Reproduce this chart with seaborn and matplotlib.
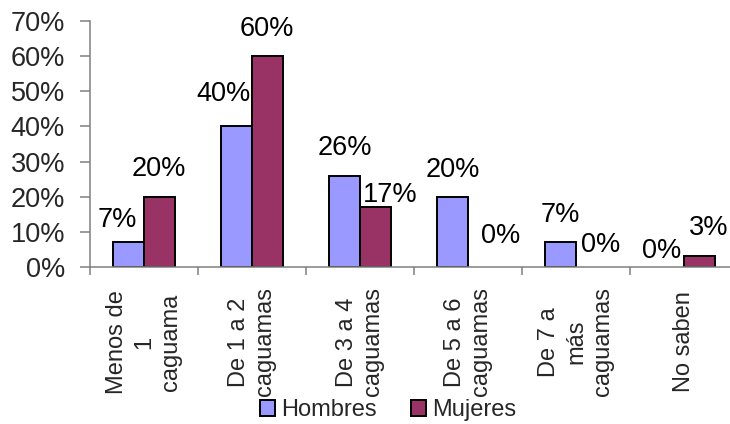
import matplotlib
matplotlib.use("Agg")
import matplotlib.pyplot as plt
from matplotlib.patches import Patch
from matplotlib.ticker import FixedLocator, FuncFormatter
import seaborn as sns
import pandas as pd

# Consumo por ocasión, porcentaje de encuestados por sexo
categorias = [
    "Menos de\n1\ncaguama",
    "De 1 a 2\ncaguamas",
    "De 3 a 4\ncaguamas",
    "De 5 a 6\ncaguamas",
    "De 7 a\nmás\ncaguamas",
    "No saben",
]
series = ["Hombres", "Mujeres"]
hombres = [7, 40, 26, 20, 7, 0]
mujeres = [20, 60, 17, 0, 0, 3]
colores = ["#9999FF", "#993366"]
yticks = [0, 10, 20, 30, 40, 50, 60, 70]

# desplazamiento (px) de cada etiqueta respecto al tope de su barra
desp_hombres = [(-11, 15), (-13, 25), (0, 21), (0, 20), (0, 20), (-7, 9)]
desp_mujeres = [(0, 21), (0, 20), (15, 5), (17, 24), (9, 15), (9, 21)]

df = pd.DataFrame({
    "categoria": categorias * 2,
    "sexo": [series[0]] * len(categorias) + [series[1]] * len(categorias),
    "valor": hombres + mujeres,
})

sns.set_style("white")
plt.rcParams["font.family"] = ["Liberation Sans", "DejaVu Sans"]

fig = plt.figure(figsize=(7.30, 4.24), dpi=100)
ax = fig.add_axes([90 / 730, 157 / 424, 648 / 730, 246 / 424])

sns.barplot(
    data=df, x="categoria", y="valor", hue="sexo",
    order=categorias, hue_order=series, palette=colores,
    width=0.565, edgecolor="black", linewidth=1.4,
    saturation=1, errorbar=None, legend=False, ax=ax,
)

ax.set_xlim(-0.5, len(categorias) - 0.5)
ax.set_ylim(0, 70)
ax.set_xlabel("")
ax.set_ylabel("")

for cont, valores, desp in zip(ax.containers, [hombres, mujeres], [desp_hombres, desp_mujeres]):
    for barra, v, (dx, dy) in zip(cont, valores, desp):
        if v == 0:
            barra.set_visible(False)
        cx = barra.get_x() + barra.get_width() / 2
        ax.annotate(f"{v}%", xy=(cx, v), xytext=(dx, dy),
                    textcoords="offset pixels", ha="center", va="baseline",
                    fontsize=19.5, color="black")

# ejes
for s in ["top", "right"]:
    ax.spines[s].set_visible(False)
for s in ["left", "bottom"]:
    ax.spines[s].set_color("#808080")
    ax.spines[s].set_linewidth(1.1)

ax.set_yticks(yticks)
ax.yaxis.set_major_formatter(FuncFormatter(lambda v, p: f"{int(v)}%"))
ax.tick_params(axis="y", direction="out", length=7, width=1.1, color="#808080",
               pad=11, labelsize=19.5, left=True)

ax.set_xticks(range(len(categorias)))
ax.set_xticklabels(categorias, rotation=90, ha="center", va="center",
                   multialignment="center", linespacing=1.27, fontsize=17)
ax.tick_params(axis="x", which="major", length=0, pad=54)
ax.xaxis.set_minor_locator(FixedLocator([i - 0.5 for i in range(len(categorias) + 1)]))
ax.tick_params(axis="x", which="minor", direction="out", length=6, width=1.1,
               color="#808080", bottom=True)

handles = [Patch(facecolor=c, edgecolor="black", linewidth=1.4) for c in colores]
fig.legend(handles, series, loc="center", bbox_to_anchor=(388 / 730, 1 - 410 / 424),
           ncol=2, frameon=False, fontsize=17, handlelength=0.64, handleheight=0.64,
           handletextpad=0.25, columnspacing=1.44, borderpad=0, borderaxespad=0)

fig.savefig("out.png", dpi=100)
